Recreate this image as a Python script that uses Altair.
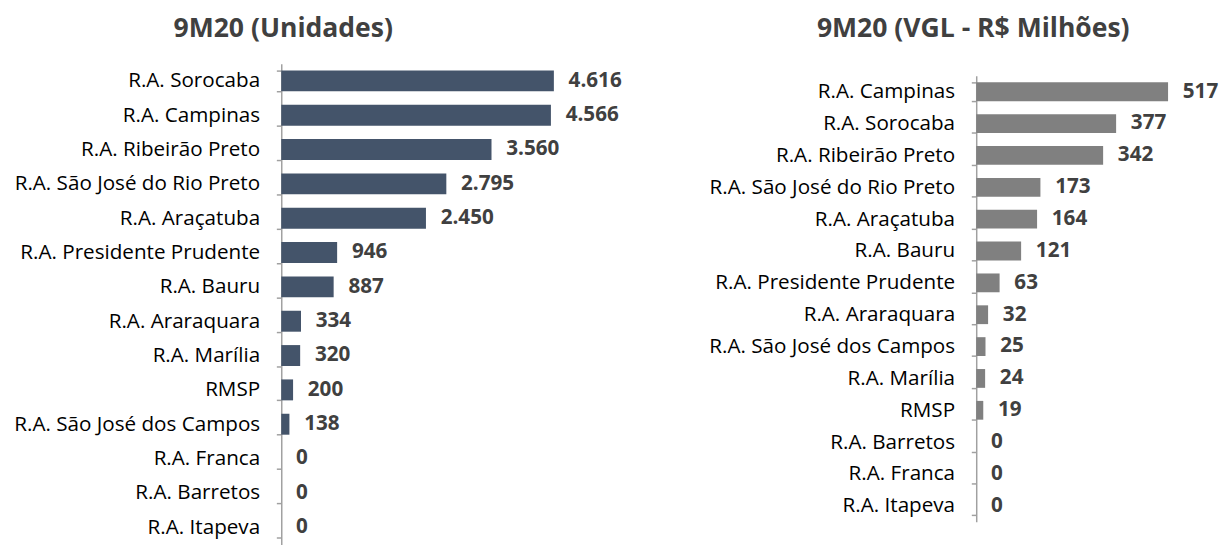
import altair as alt
import pandas as pd

# Left panel: units
units_title = "9M20 (Unidades)"
units_cats = ["R.A. Sorocaba", "R.A. Campinas", "R.A. Ribeirão Preto", "R.A. São José do Rio Preto",
              "R.A. Araçatuba", "R.A. Presidente Prudente", "R.A. Bauru", "R.A. Araraquara",
              "R.A. Marília", "RMSP", "R.A. São José dos Campos", "R.A. Franca",
              "R.A. Barretos", "R.A. Itapeva"]
units_vals = [4616, 4566, 3560, 2795, 2450, 946, 887, 334, 320, 200, 138, 0, 0, 0]

# Right panel: VGL (R$ millions)
vgl_title = "9M20 (VGL - R$ Milhões)"
vgl_cats = ["R.A. Campinas", "R.A. Sorocaba", "R.A. Ribeirão Preto", "R.A. São José do Rio Preto",
            "R.A. Araçatuba", "R.A. Bauru", "R.A. Presidente Prudente", "R.A. Araraquara",
            "R.A. São José dos Campos", "R.A. Marília", "RMSP", "R.A. Barretos",
            "R.A. Franca", "R.A. Itapeva"]
vgl_vals = [517, 377, 342, 173, 164, 121, 63, 32, 25, 24, 19, 0, 0, 0]

FONT = "Open Sans"


def fmt(v):
    return f"{v:,}".replace(",", ".")


def panel(cats, vals, color, title, width, height, yrange, xmax, pad_inner, title_x):
    df = pd.DataFrame({"cat": cats, "val": vals, "lab": [fmt(v) for v in vals]})
    y = alt.Y("cat:N", sort=cats, title=None,
              scale=alt.Scale(paddingInner=pad_inner, paddingOuter=pad_inner / 2, range=yrange),
              axis=alt.Axis(labelFont=FONT, labelFontSize=21, labelColor="#000000",
                            labelPadding=17, tickSize=5, tickBand="extent",
                            tickColor="#A0A0A0", domainColor="#A0A0A0", domainWidth=1.5,
                            tickWidth=1.5, grid=False, minExtent=270, maxExtent=270,
                            labelLimit=320))
    x = alt.X("val:Q", scale=alt.Scale(domain=[0, xmax], nice=False, zero=True), axis=None)
    bars = alt.Chart(df).mark_bar(color=color).encode(x=x, y=y)
    text = alt.Chart(df).mark_text(align="left", baseline="middle", dx=15, font=FONT,
                                   fontSize=21, fontWeight="bold", color="#404040").encode(
        x=x, y=y, text="lab:N")
    ttl = alt.Chart(pd.DataFrame({"t": [title]})).mark_text(
        align="center", baseline="alphabetic", font=FONT, fontSize=27, fontWeight="bold",
        color="#404040").encode(x=alt.value(title_x), y=alt.value(-26.7), text="t:N")
    return (bars + text + ttl).properties(width=width, height=height)


LW = 350
RW = 248
left = panel(units_cats, units_vals, "#44546A", units_title, LW, 489, [0, 489],
             LW / 0.06008, 0.39, 2)
right = panel(vgl_cats, vgl_vals, "#808080", vgl_title, RW, 466, [12.3, 466],
              RW / 0.3775, 0.41, -3)

chart = alt.hconcat(left, right, spacing=84).properties(
    padding={"left": 5, "top": 3, "right": 0, "bottom": 0}
).configure_view(stroke=None)

chart.save("out.html", embed_options={"renderer": "svg", "actions": False})
